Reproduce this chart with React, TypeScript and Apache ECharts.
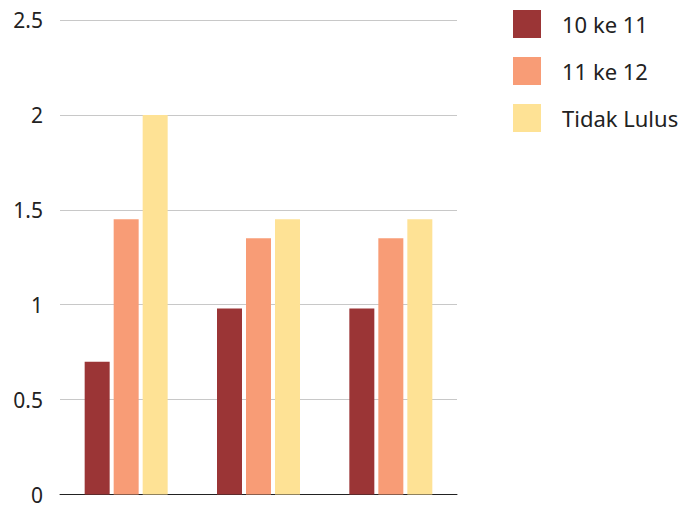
import React, { useEffect, useRef } from "react";
import * as echarts from "echarts";

const categories = ["A", "B", "C"];
const seriesNames = ["10 ke 11", "11 ke 12", "Tidak Lulus"];
const naik10ke11 = [0.7, 0.98, 0.98];
const naik11ke12 = [1.45, 1.35, 1.35];
const tidakLulus = [2.0, 1.45, 1.45];
const colors = ["#9b3536", "#f89c76", "#fee295"];

const FONT = "'Noto Sans', sans-serif";

export default function App() {
  const ref = useRef<HTMLDivElement>(null);

  useEffect(() => {
    if (!ref.current) return;
    const chart = echarts.init(ref.current, undefined, { renderer: "svg" });
    const values = [naik10ke11, naik11ke12, tidakLulus];
    chart.setOption({
      animation: false,
      textStyle: { fontFamily: FONT },
      grid: { left: 60, right: 235, top: 20, bottom: 8, containLabel: false },
      legend: {
        orient: "vertical",
        left: 513,
        top: 10,
        padding: 0,
        itemWidth: 28,
        itemHeight: 28,
        itemGap: 19,
        icon: "rect",
        textStyle: { fontSize: 22, color: "#222", fontFamily: FONT, padding: [0, 0, 0, 16] },
        data: seriesNames,
      },
      xAxis: {
        type: "category",
        data: categories,
        axisLine: { lineStyle: { color: "#222", width: 1 } },
        axisTick: { show: false },
        axisLabel: { show: false },
      },
      yAxis: {
        type: "value",
        min: 0,
        max: 2.5,
        interval: 0.5,
        axisLine: { show: false },
        axisTick: { show: false },
        axisLabel: { fontSize: 21, lineHeight: 16, color: "#222", margin: 17, fontFamily: FONT },
        splitLine: { lineStyle: { color: "#c8c8c8", width: 1 } },
      },
      series: seriesNames.map((name, i) => ({
        name,
        type: "bar",
        data: values[i],
        barWidth: 25,
        barGap: "16%",
        itemStyle: { color: colors[i] },
      })),
    });
    return () => chart.dispose();
  }, []);

  return <div ref={ref} style={{ width: 692, height: 505, position: "absolute", left: 0, top: 0 }} />;
}
